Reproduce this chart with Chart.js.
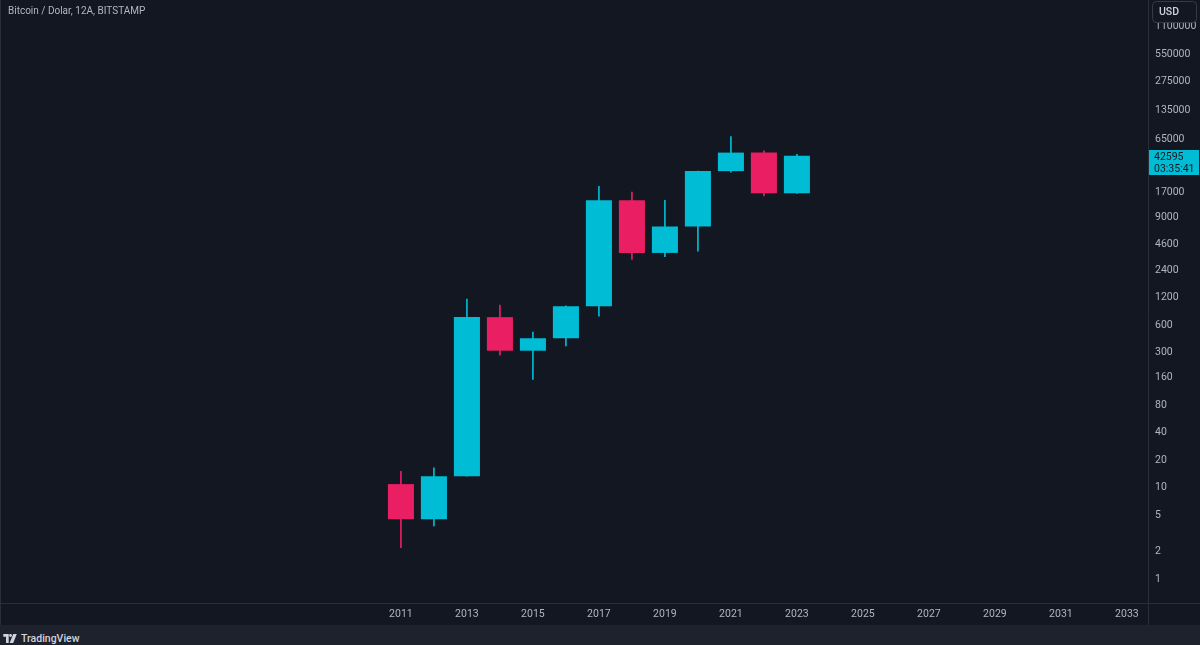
<!DOCTYPE html>
<html>
<head>
<meta charset="utf-8">
<title>Bitcoin / Dolar, 12A, BITSTAMP</title>
<script src="https://cdn.jsdelivr.net/npm/chart.js@4.4.0/dist/chart.umd.min.js"></script>
<style>
  html, body { margin: 0; padding: 0; background: #131722; }
  #wrap { position: relative; width: 1200px; height: 625px; }
  #footer { width: 1200px; height: 20px; background: #1e222d; position: relative;
            font-family: Roboto, "Noto Sans", sans-serif; font-size: 10.5px; color: #d1d4dc; }
  #footer svg { position: absolute; left: 3px; top: 9px; }
  #footer span { position: absolute; left: 21px; top: 7px; font-weight: 500; }
</style>
</head>
<body>
<div id="wrap"><canvas id="chart"></canvas></div>
<div id="footer">
  <svg width="15" height="9" viewBox="0 0 16 10"><path d="M0 0h6v10H3V3H0z" fill="#d1d4dc"/><circle cx="8" cy="1.6" r="1.6" fill="#d1d4dc"/><path d="M11 0h4l-4 10H7z" fill="#d1d4dc"/></svg>
  <span>TradingView</span>
</div>
<script>
var title = 'Bitcoin / Dolar, 12A, BITSTAMP';
var years = [2011, 2012, 2013, 2014, 2015, 2016, 2017, 2018, 2019, 2020, 2021, 2022, 2023];
var open  = [10.9, 4.5, 13.3, 732, 314, 430, 963, 13880, 3690, 7180, 28990, 46200, 16540];
var high  = [15.0, 16.4, 1150, 990, 502, 975, 19700, 17100, 13900, 29000, 69000, 48200, 44300];
var low   = [2.2, 3.8, 13.3, 280, 152, 355, 750, 3130, 3350, 3860, 28300, 15500, 16500];
var close = [4.5, 13.3, 732, 314, 430, 963, 13880, 3690, 7180, 28990, 46200, 16540, 42595];
var priceTicks = [1, 2, 5, 10, 20, 40, 80, 160, 300, 600, 1200, 2400, 4600, 9000, 17000, 65000, 135000, 275000, 550000, 1100000];
var yearTicks = [2011, 2013, 2015, 2017, 2019, 2021, 2023, 2025, 2027, 2029, 2031, 2033];
var countdown = '03:35:41';

var up = '#00bcd4';
var down = '#e91e63';
var textColor = '#b2b5be';
var lineColor = '#2a2e39';
var font = 'Roboto, "Noto Sans", sans-serif';

var colors = years.map(function(y, i) { return close[i] >= open[i] ? up : down; });

var bodies = years.map(function(y, i) {
  return { x: y, y: [Math.min(open[i], close[i]), Math.max(open[i], close[i])] };
});
var wicks = years.map(function(y, i) {
  return { x: y, y: [low[i], high[i]] };
});

var overlay = {
  id: 'overlay',
  afterDatasetsDraw: function(chart) {
    var ctx = chart.ctx;
    var area = chart.chartArea;
    var yScale = chart.scales.y;
    ctx.save();

    // pane separators
    ctx.strokeStyle = lineColor;
    ctx.lineWidth = 1;
    ctx.beginPath();
    ctx.moveTo(0, Math.round(area.bottom) + 0.5);
    ctx.lineTo(1200, Math.round(area.bottom) + 0.5);
    ctx.moveTo(Math.round(area.right) + 0.5, 0);
    ctx.lineTo(Math.round(area.right) + 0.5, 625);
    ctx.moveTo(0.5, 0);
    ctx.lineTo(0.5, 625);
    ctx.stroke();

    // symbol title
    ctx.fillStyle = textColor;
    ctx.font = '10px ' + font;
    ctx.textBaseline = 'middle';
    ctx.textAlign = 'left';
    ctx.fillText(title, 8, 11);

    // last price tag
    var last = close[close.length - 1];
    var py = yScale.getPixelForValue(last);
    ctx.fillStyle = up;
    ctx.fillRect(Math.round(area.right) + 1, Math.round(py) - 6, 50, 25);
    ctx.fillStyle = '#131722';
    ctx.font = '10.5px ' + font;
    ctx.fillText(String(last), 1154, Math.round(py) + 1);
    ctx.fillText(countdown, 1154, Math.round(py) + 13);

    // currency button
    ctx.fillStyle = '#131722';
    ctx.strokeStyle = '#363a45';
    ctx.beginPath();
    ctx.roundRect(1152.5, 1.5, 44, 21, 4);
    ctx.fill();
    ctx.stroke();
    ctx.fillStyle = '#d1d4dc';
    ctx.font = '500 10.5px ' + font;
    ctx.fillText('USD', 1159, 12.5);
    ctx.restore();
  }
};

var ctx = document.getElementById('chart').getContext('2d');
var chart = new Chart(ctx, {
  type: 'bar',
  data: {
    datasets: [
      { data: bodies, backgroundColor: colors, borderWidth: 0, grouped: false,
        barPercentage: 0.79, categoryPercentage: 1, order: 0 },
      { data: wicks, backgroundColor: colors, borderWidth: 0, grouped: false,
        barThickness: 1, order: 1 }
    ]
  },
  options: {
    responsive: true,
    maintainAspectRatio: false,
    animation: false,
    layout: { padding: 0 },
    plugins: { legend: { display: false }, tooltip: { enabled: false } },
    scales: {
      x: {
        type: 'linear',
        offset: false,
        bounds: 'data',
        min: 1998.85,
        max: 2033.64,
        grid: { display: false, drawTicks: false },
        border: { display: false },
        afterBuildTicks: function(scale) {
          scale.ticks = yearTicks.map(function(v) { return { value: v }; });
        },
        afterFit: function(scale) {
          scale.height = 22;
          scale.paddingLeft = 0;
          scale.paddingRight = 0;
        },
        ticks: {
          color: textColor,
          font: { family: font, size: 10.5 },
          padding: 5,
          maxRotation: 0,
          autoSkip: false,
          callback: function(v) { return String(v); }
        }
      },
      y: {
        type: 'logarithmic',
        position: 'right',
        bounds: 'data',
        beginAtZero: false,
        min: 0.545,
        max: 2160000,
        grid: { display: false, drawTicks: false },
        border: { display: false },
        afterBuildTicks: function(scale) {
          scale.ticks = priceTicks.map(function(v) { return { value: v }; });
        },
        afterFit: function(scale) {
          scale.width = 52;
          scale.paddingTop = 0;
          scale.paddingBottom = 0;
        },
        ticks: {
          color: textColor,
          font: { family: font, size: 10.5 },
          padding: 7,
          autoSkip: false,
          callback: function(v) { return String(v); }
        }
      }
    }
  },
  plugins: [overlay]
});
</script>
</body>
</html>
